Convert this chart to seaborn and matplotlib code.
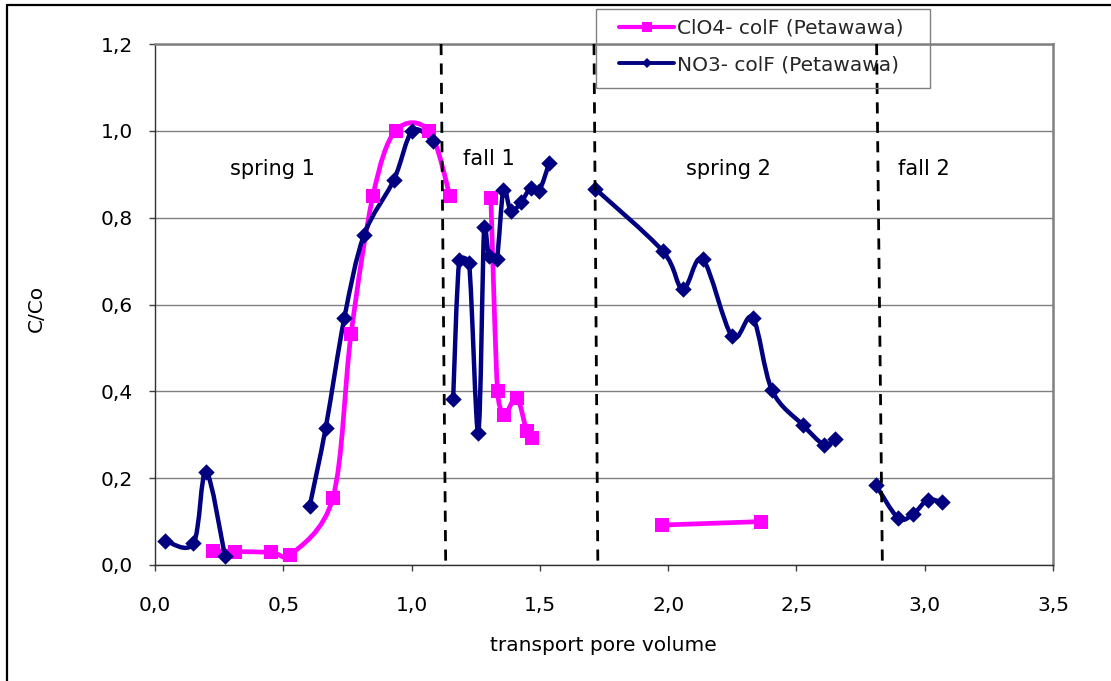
import numpy as np
import matplotlib
matplotlib.use("Agg")
import matplotlib.pyplot as plt
from matplotlib.path import Path
from matplotlib.patches import PathPatch, Rectangle
from matplotlib.lines import Line2D
from matplotlib.ticker import FixedLocator, FuncFormatter
import seaborn as sns

nan = np.nan

# ---------------- data ----------------
clo4_label = "ClO4- colF (Petawawa)"
no3_label = "NO3- colF (Petawawa)"

clo4_x = [0.225, 0.3125, 0.453, 0.527, 0.693, 0.764, 0.849, 0.9375, 1.068, 1.150, nan,
          1.309, 1.335, 1.361, 1.410, 1.449, 1.471, nan,
          1.975, 2.363]
clo4_y = [0.033, 0.031, 0.029, 0.023, 0.154, 0.531, 0.849, 1.000, 1.000, 0.849, nan,
          0.846, 0.400, 0.346, 0.385, 0.308, 0.292, nan,
          0.092, 0.100]

no3_x = [0.039, 0.150, 0.199, 0.273, nan,
         0.603, 0.665, 0.738, 0.814, 0.931, 1.003, 1.085, nan,
         1.162, 1.186, 1.224, 1.260, 1.283, 1.302, 1.332, 1.358, 1.387, 1.426, 1.465, 1.497, 1.536, nan,
         1.715, 1.979, 2.057, 2.135, 2.249, 2.330, 2.405, 2.526, 2.608, 2.650, nan,
         2.809, 2.897, 2.956, 3.012, 3.069]
no3_y = [0.056, 0.050, 0.215, 0.020, nan,
         0.136, 0.315, 0.569, 0.759, 0.887, 1.000, 0.977, nan,
         0.382, 0.702, 0.695, 0.305, 0.779, 0.711, 0.704, 0.864, 0.815, 0.835, 0.869, 0.862, 0.925, nan,
         0.867, 0.723, 0.635, 0.704, 0.527, 0.569, 0.402, 0.322, 0.277, 0.290, nan,
         0.185, 0.108, 0.118, 0.150, 0.144]

# period boundaries (x at top, x at bottom of the hand-drawn dashed lines)
boundary_top = [1.115, 1.711, 2.8125]
boundary_bottom = [1.133, 1.726, 2.835]

period_labels = ["spring 1", "fall 1", "spring 2", "fall 2"]
period_x = [0.457, 1.30, 2.234, 2.996]
period_y = [0.912, 0.935, 0.912, 0.912]

x_ticks = [0.0, 0.5, 1.0, 1.5, 2.0, 2.5, 3.0, 3.5]
y_ticks = [0.0, 0.2, 0.4, 0.6, 0.8, 1.0, 1.2]
x_label = "transport pore volume"
y_label = "C/Co"

# ---------------- style ----------------
sns.set_theme(style="white")
plt.rcParams["font.family"] = ["DejaVu Sans"]

MAGENTA = "#FF00FF"
NAVY = "#000080"
FS = 14.5

W, H = 1111, 681
fig = plt.figure(figsize=(W / 100, H / 100), dpi=100)
ax = fig.add_axes([155 / W, 1 - 565 / H, (1053 - 155) / W, (565 - 44) / H])
ax.set_xlim(0, 3.5)
ax.set_ylim(0, 1.2)

# pixel scale of the axes (used only to shape the smoothing of the line)
SX = (1053 - 155) / 3.5
SY = (565 - 44) / 1.2


def segments(xs, ys):
    segs, cx, cy = [], [], []
    for a, b in zip(xs, ys):
        if np.isnan(a):
            if cx:
                segs.append((cx, cy))
            cx, cy = [], []
        else:
            cx.append(a)
            cy.append(b)
    if cx:
        segs.append((cx, cy))
    return segs


def smooth_path(xs, ys):
    # Excel-like smoothed line: Bezier with tangent/6 control points,
    # each control offset limited to half of its segment length
    p = np.column_stack([np.asarray(xs) * SX, np.asarray(ys) * SY])
    n = len(p)

    def tangent(i):
        pm = p[i - 1] if i > 0 else p[i]
        pp = p[i + 1] if i + 1 < n else p[i]
        return (pp - pm) / 6.0

    def clamp(v, lim):
        m = np.hypot(*v)
        return v * (lim / m) if m > lim and m > 0 else v

    verts = [tuple(p[0])]
    codes = [Path.MOVETO]
    for i in range(n - 1):
        di = np.hypot(*(p[i + 1] - p[i]))
        c1 = p[i] + clamp(tangent(i), 0.5 * di)
        c2 = p[i + 1] - clamp(tangent(i + 1), 0.5 * di)
        verts += [tuple(c1), tuple(c2), tuple(p[i + 1])]
        codes += [Path.CURVE4] * 3
    v = np.array(verts)
    v[:, 0] /= SX
    v[:, 1] /= SY
    return Path(v, codes)


for xs, ys, col, lw in [(clo4_x, clo4_y, MAGENTA, 3.4), (no3_x, no3_y, NAVY, 3.2)]:
    for sx, sy in segments(xs, ys):
        ax.add_patch(PathPatch(smooth_path(sx, sy), facecolor="none", edgecolor=col,
                               lw=lw, capstyle="round", joinstyle="round", zorder=3))

sns.scatterplot(x=clo4_x, y=clo4_y, marker="s", color=MAGENTA, s=100, linewidth=0, ax=ax, zorder=4)
sns.scatterplot(x=no3_x, y=no3_y, marker="D", color=NAVY, s=70, linewidth=0, ax=ax, zorder=5)

for xt, xb in zip(boundary_top, boundary_bottom):
    ax.plot([xt, xb], [1.2, 0.0], color="black", lw=2.0, ls=(0, (4, 3)), zorder=6, clip_on=False)

for lab, px, py in zip(period_labels, period_x, period_y):
    ax.text(px, py, lab, ha="center", va="center", fontsize=FS + 0.5, color="black")

ax.set_xlim(0, 3.5)
ax.set_ylim(0, 1.2)
ax.xaxis.set_major_locator(FixedLocator(x_ticks))
ax.yaxis.set_major_locator(FixedLocator(y_ticks))
fmt = FuncFormatter(lambda v, p: f"{v:.1f}".replace(".", ","))
ax.xaxis.set_major_formatter(fmt)
ax.yaxis.set_major_formatter(fmt)
ax.tick_params(axis="x", bottom=True, direction="out", length=4, width=1, color="#404040",
               pad=18, labelsize=FS, labelcolor="black")
ax.tick_params(axis="y", left=True, direction="out", length=4, width=1, color="#404040",
               pad=12, labelsize=FS, labelcolor="black")

ax.yaxis.grid(True, color="#808080", lw=1)
ax.xaxis.grid(False)
ax.set_axisbelow(True)

for side in ["top", "right"]:
    ax.spines[side].set_color("#808080")
    ax.spines[side].set_linewidth(1.8)
for side in ["left", "bottom"]:
    ax.spines[side].set_color("#303030")
    ax.spines[side].set_linewidth(1.0)

ax.set_xlabel(x_label, fontsize=FS, color="black")
ax.set_ylabel(y_label, fontsize=FS, color="black")
ax.xaxis.set_label_coords(0.499, -0.136)
ax.yaxis.set_label_coords(-0.122, 0.493)

# legend
fig.patches.append(Rectangle((596 / W, 1 - 88 / H), (930 - 596) / W, (88 - 9) / H,
                             transform=fig.transFigure, facecolor="none",
                             edgecolor="#808080", lw=1.0, zorder=1))
handles = [
    Line2D([], [], color=MAGENTA, lw=3.0, marker="s", markersize=7, markeredgewidth=0),
    Line2D([], [], color=NAVY, lw=2.8, marker="D", markersize=5.5, markeredgewidth=0),
]
fig.legend(handles, [clo4_label, no3_label], loc="upper left",
           bbox_to_anchor=(619 / W, 1 - 19 / H), bbox_transform=fig.transFigure,
           frameon=False, borderpad=0, borderaxespad=0, fontsize=FS,
           handlelength=2.75, handletextpad=0.15, labelspacing=0.85)

# figure border (top and left)
fig.add_artist(Line2D([7 / W, 1], [1 - 5 / H, 1 - 5 / H], transform=fig.transFigure,
                      color="black", lw=1.6))
fig.add_artist(Line2D([7 / W, 7 / W], [0, 1 - 5 / H], transform=fig.transFigure,
                      color="black", lw=1.6))

fig.savefig("out.png", dpi=100)
